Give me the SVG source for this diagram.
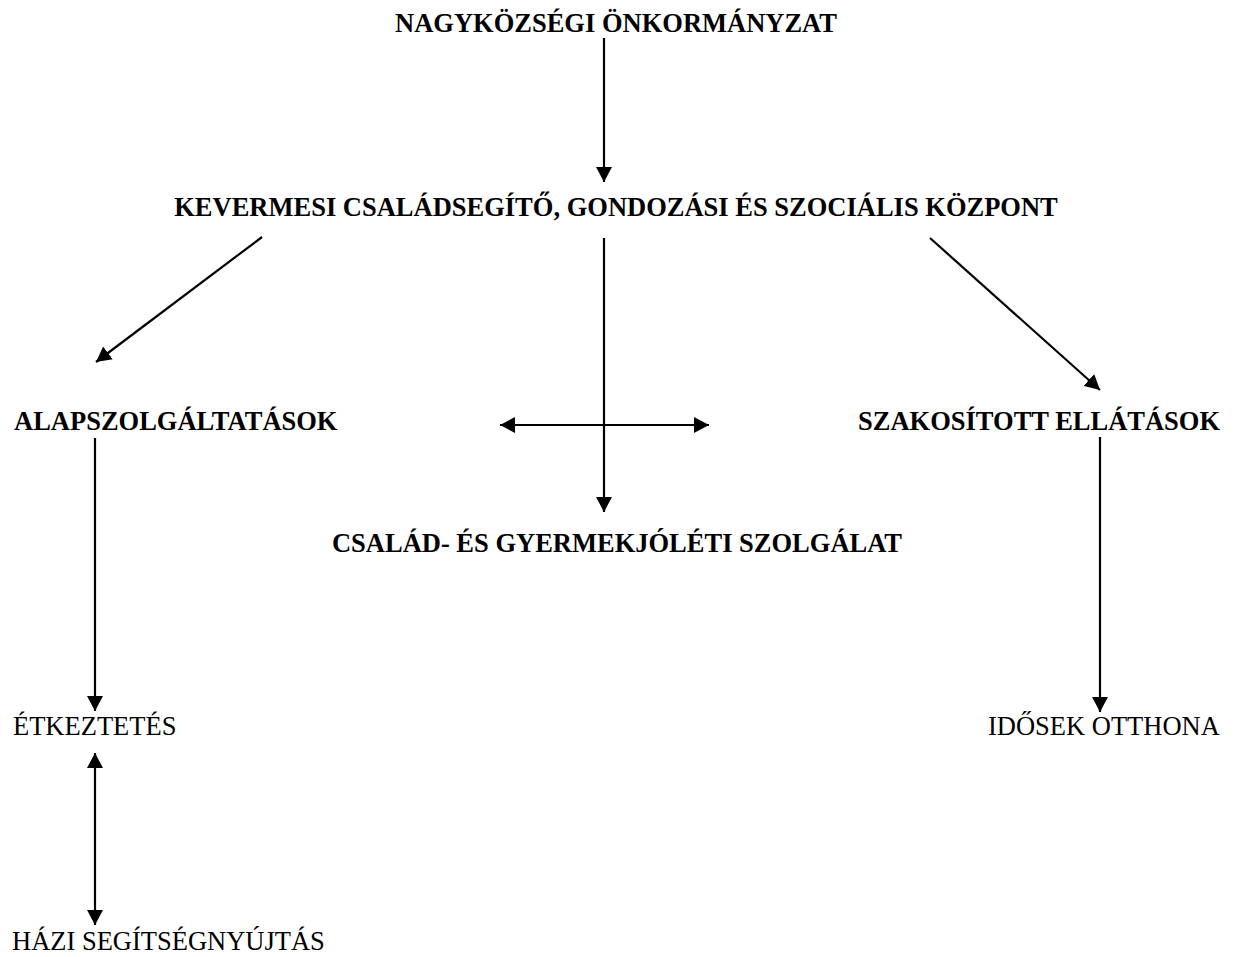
<svg xmlns="http://www.w3.org/2000/svg" width="1234" height="957" viewBox="0 0 1234 957">
<style>
text{font-family:"Liberation Serif","Times New Roman",serif;font-size:26.5px;fill:#000}
.b{font-weight:bold}
.c line{stroke:#000;stroke-width:2.2}
</style>
<defs>
<marker id="ah" markerUnits="userSpaceOnUse" markerWidth="16" markerHeight="16" refX="15" refY="8" orient="auto-start-reverse">
<path d="M0,0 L15,8 L0,16 Z" fill="#000"/>
</marker>
</defs>
<rect width="1234" height="957" fill="#fff"/>
<g class="c" id="connectors">
<line x1="604" y1="38" x2="604" y2="182" marker-end="url(#ah)"/>
<line x1="262" y1="237" x2="96" y2="362" marker-end="url(#ah)"/>
<line x1="604" y1="238" x2="604" y2="512" marker-end="url(#ah)"/>
<line x1="930" y1="238" x2="1100" y2="390" marker-end="url(#ah)"/>
<line x1="500" y1="425" x2="709" y2="425" marker-start="url(#ah)" marker-end="url(#ah)"/>
<line x1="95" y1="438" x2="95" y2="711" marker-end="url(#ah)"/>
<line x1="95" y1="753" x2="95" y2="925" marker-start="url(#ah)" marker-end="url(#ah)"/>
<line x1="1100" y1="437" x2="1100" y2="712" marker-end="url(#ah)"/>
</g>
<g id="n1"><text class="b" x="616" y="32" text-anchor="middle">NAGYKÖZSÉGI ÖNKORMÁNYZAT</text></g>
<g id="n2"><text class="b" x="616" y="216" text-anchor="middle">KEVERMESI CSALÁDSEGÍTŐ, GONDOZÁSI ÉS SZOCIÁLIS KÖZPONT</text></g>
<g id="n3"><text class="b" x="14" y="430">ALAPSZOLGÁLTATÁSOK</text></g>
<g id="n4"><text class="b" x="858" y="430">SZAKOSÍTOTT ELLÁTÁSOK</text></g>
<g id="n5"><text class="b" x="617" y="552" text-anchor="middle">CSALÁD- ÉS GYERMEKJÓLÉTI SZOLGÁLAT</text></g>
<g id="n6"><text x="13" y="735">ÉTKEZTETÉS</text></g>
<g id="n7"><text x="12" y="950">HÁZI SEGÍTSÉGNYÚJTÁS</text></g>
<g id="n8"><text x="988" y="735">IDŐSEK OTTHONA</text></g>
</svg>
